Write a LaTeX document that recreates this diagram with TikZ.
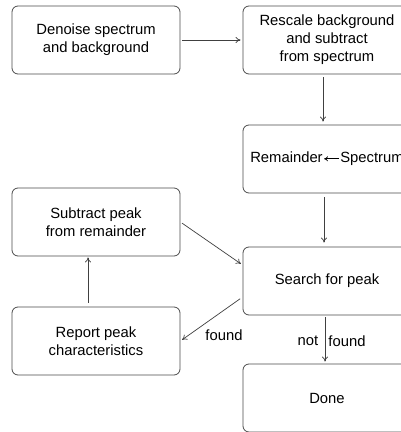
\documentclass[tikz,border=0pt]{standalone}
\usepackage{fontspec}
\setmainfont{Liberation Sans}
\usetikzlibrary{arrows.meta}
\begin{document}
\begin{tikzpicture}[x=1pt,y=-1pt,
  box/.style={draw=black!70, line width=0.8pt, rounded corners=6pt,
    minimum width=168pt, minimum height=68pt, align=center,
    font=\fontsize{14.8}{18}\selectfont, inner sep=0pt},
  conn/.style={draw=black!75, line width=0.7pt, -{To[length=5pt,width=6pt]}},
  lbl/.style={font=\fontsize{14.8}{18}\selectfont, inner sep=0pt}]
\useasboundingbox (0,0) rectangle (401,432);
\fill[white] (0,0) rectangle (401,432);
\clip (0,0) rectangle (401,432);
\node[box] (den) at (96,40) {Denoise spectrum\\and background};
\node[box] (res) at (327,40) {Rescale background\\and subtract\\from spectrum};
\node[box] (rem) at (327,159) {Remainder\kern1pt\tikz[baseline={(0pt,-4pt)}]\draw[line width=0.7pt,-{To[length=4pt,width=5pt]}] (15pt,0pt)--(0pt,0pt);\kern1pt Spectrum};
\node[box] (srch) at (327,281) {Search for peak};
\node[box] (sub) at (96,222) {Subtract peak\\from remainder};
\node[box] (rep) at (96,341) {Report peak\\characteristics};
\node[box] (done) at (327,398) {Done};
\draw[conn, shorten <=2pt, shorten >=2pt] (den.east) -- (res.west);
\draw[conn, shorten <=3pt, shorten >=3pt] ([xshift=-4pt]res.south) -- ([xshift=-4pt]rem.north);
\draw[conn, shorten <=4pt, shorten >=4pt] ([xshift=-3pt]rem.south) -- ([xshift=-3pt]srch.north);
\draw[conn, shorten <=2pt, shorten >=2pt] (sub.east) -- ([yshift=16pt]srch.west);
\draw[conn, shorten <=3pt, shorten >=2pt] ([yshift=-16pt]srch.west) -- (rep.east);
\draw[conn, shorten <=4pt, shorten >=1pt] ([xshift=-8pt]rep.north) -- ([xshift=-8pt]sub.south);
\draw[conn, shorten <=2pt, shorten >=2pt] ([xshift=-2pt]srch.south) -- ([xshift=-2pt]done.north);
\node[lbl] (f1) at (224,335) {found};
\node[lbl] (nt) at (308,341) {not};
\node[lbl] (f2) at (347,341) {found};
\end{tikzpicture}
\end{document}
